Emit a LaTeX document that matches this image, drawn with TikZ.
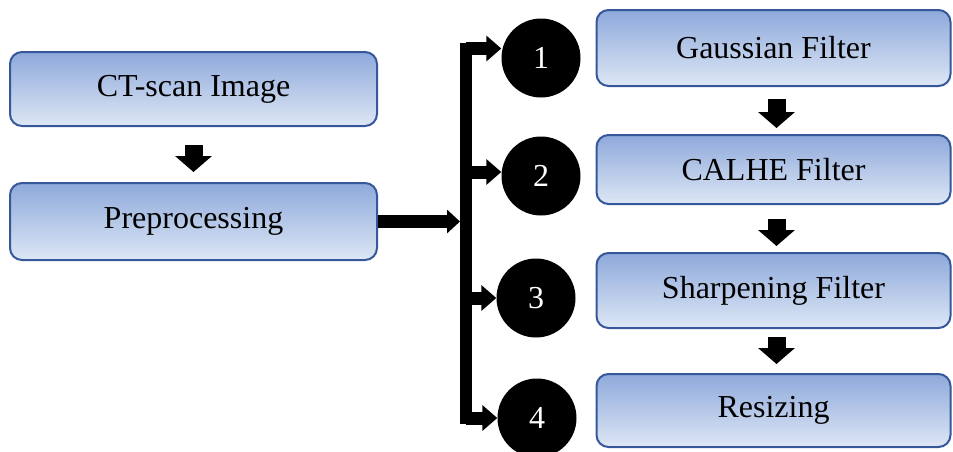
\documentclass[tikz,border=0pt]{standalone}
\usepackage{fontspec}
\setmainfont{Liberation Serif}
\usetikzlibrary{arrows.meta}
\definecolor{boxline}{HTML}{36589A}
\definecolor{boxtop}{HTML}{8EA9DB}
\definecolor{boxbot}{HTML}{DDE7F5}
\begin{document}
\begin{tikzpicture}[x=1pt,y=-1pt,
  box/.style={draw=boxline, line width=2pt, rounded corners=12pt, top color=boxtop, bottom color=boxbot,
    minimum width=367pt, inner sep=0pt, font=\fontsize{32}{38}\selectfont},
  rbox/.style={box, minimum width=354pt},
  num/.style={circle, fill=black, minimum size=79pt, inner sep=0pt, text=white, font=\fontsize{32}{38}\selectfont},
  downarrow/.style={line width=18pt, -{Triangle[width=36pt,length=16pt]}},
  sidearrow/.style={line width=13pt, -{Triangle[width=25pt,length=15pt]}},
  mainarrow/.style={line width=13pt, -{Triangle[width=23pt,length=13pt]}},
  branchbar/.style={line width=12pt, line cap=rect}]
\useasboundingbox (0,0) rectangle (953,451);

% left column
\node[box, minimum height=74pt] (ct) at (193.5,89) {CT-scan Image};
\node[box, minimum height=77pt] (pre) at (193.5,221.5) {Preprocessing};

% right column
\node[rbox, minimum height=76pt] (gauss) at (773.5,48) {Gaussian Filter};
\node[rbox, minimum height=69pt] (calhe) at (773.5,169.5) {CALHE Filter};
\node[rbox, minimum height=75pt] (sharp) at (773.5,290.5) {Sharpening Filter};
\node[rbox, minimum height=73pt] (resize) at (773.5,410.5) {Resizing};

% numbered circles
\node[num] (c1) at (541,58) {1};
\node[num] (c2) at (541,176) {2};
\node[num] (c3) at (536,298) {3};
\node[num] (c4) at (537,418) {4};

% junctions on the branch bar
\coordinate (jm) at (460,221.5);
\coordinate (j1) at (466,48.5);
\coordinate (j2) at (466,172);
\coordinate (j3) at (466,298);
\coordinate (j4) at (466,418);

% down arrows
\draw[downarrow, shorten <=18pt, shorten >=10pt] (ct.south) -- (pre.north);
\draw[downarrow, shorten <=12pt, shorten >=6pt] ([xshift=3pt]gauss.south) -- ([xshift=3pt]calhe.north);
\draw[downarrow, shorten <=14pt, shorten >=6pt] ([xshift=3pt]calhe.south) -- ([xshift=3pt]sharp.north);
\draw[downarrow, shorten <=8pt, shorten >=9pt] ([xshift=3pt]sharp.south) -- ([xshift=3pt]resize.north);

% main arrow and branches
\draw[mainarrow] (pre.east) -- (jm);
\draw[branchbar] (j1) -- (j4);
\draw[sidearrow] (j1) -- (c1.west |- j1);
\draw[sidearrow] (j2) -- (c2.west |- j2);
\draw[sidearrow] (j3) -- (c3.west |- j3);
\draw[sidearrow] (j4) -- (c4.west |- j4);
\end{tikzpicture}
\end{document}
